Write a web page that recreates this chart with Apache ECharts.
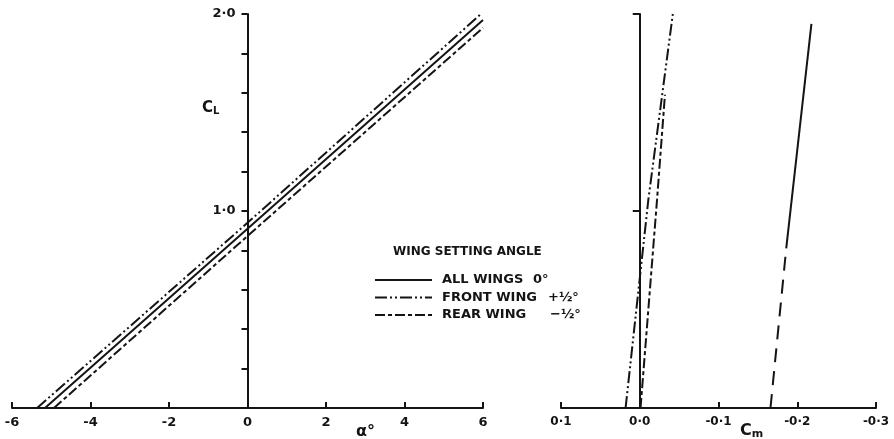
<!DOCTYPE html>
<html>
<head>
<meta charset="utf-8">
<script src="https://cdn.jsdelivr.net/npm/echarts@6/dist/echarts.min.js"></script>
<style>
  html, body { margin: 0; padding: 0; background: #fff; }
  #chart { width: 894px; height: 439px; }
</style>
</head>
<body>
<div id="chart"></div>
<script>
// Series names (wing setting angle configurations)
const configNames = ['ALL WINGS', 'FRONT WING', 'REAR WING'];
const configAngles = ['0°', '+½°', '−½°'];

// Lift curves: [alpha (deg), CL]
const liftAllWings   = [[-5.16, 0], [0, 0.91], [6.0, 1.97]];
const liftFrontWing  = [[-5.36, 0], [0, 0.94], [5.95, 2.0]];
const liftRearWing   = [[-4.93, 0], [0, 0.873], [6.0, 1.93]];

// Pitching moment curves: [Cm, CL]
const momentAllWingsUpper = [[-0.186, 0.81], [-0.218, 1.95]];
const momentAllWingsLower = [[-0.166, 0], [-0.186, 0.81]];
const momentFrontWing = [[0.018, 0], [-0.011, 1.06], [-0.042, 2.0]];
const momentRearWing  = [[-0.001, 0], [-0.022, 1.06], [-0.032, 1.59]];

// Tick labels
const alphaTicks = { '-6': '-6', '-4': '-4', '-2': '-2', '0': '0', '2': '2', '4': '4', '6': '6' };
const cmTicks = { '0.1': '0·1', '0': '0·0', '-0.1': '-0·1', '-0.2': '-0·2', '-0.3': '-0·3' };
const clTicks = { '1': '1·0', '2': '2·0' };

const ink = '#141414';
const font = 'DejaVu Sans';
const dashDotDot = [12, 3, 2, 3, 2, 3];
const dashShort = [10, 3, 4, 3];

// Plot areas
const leftGrid = { left: 12, top: 14, width: 471, height: 394 };
const rightGrid = { left: 561, top: 14, width: 315, height: 394 };

function labelStyle(extra) {
  return Object.assign({ color: ink, fontFamily: font, fontWeight: 'bold', fontSize: 12 }, extra);
}

function lineSeries(name, data, xi, yi, type) {
  return {
    name: name, type: 'line', data: data,
    xAxisIndex: xi, yAxisIndex: yi,
    symbol: 'none', silent: true,
    itemStyle: { color: ink },
    lineStyle: { color: ink, width: 2, type: type }
  };
}

const legendText = { fontFamily: font, fontWeight: 'bold', fontSize: 13, color: ink };

const chart = echarts.init(document.getElementById('chart'));
chart.setOption({
  backgroundColor: '#fff',
  animation: false,
  grid: [
    Object.assign({ outerBoundsMode: 'none', containLabel: false }, leftGrid),
    Object.assign({ outerBoundsMode: 'none', containLabel: false }, rightGrid)
  ],
  xAxis: [
    {
      type: 'value', gridIndex: 0, min: -6, max: 6, interval: 2,
      splitLine: { show: false },
      axisLine: { onZero: false, lineStyle: { color: ink, width: 2 } },
      axisTick: { inside: true, length: 6, lineStyle: { color: ink, width: 2 } },
      axisLabel: labelStyle({ margin: 8, fontSize: 13, formatter: v => alphaTicks[String(v)] || '' })
    },
    {
      type: 'value', gridIndex: 1, min: -0.3, max: 0.1, interval: 0.1, inverse: true,
      splitLine: { show: false },
      axisLine: { onZero: false, lineStyle: { color: ink, width: 2 } },
      axisTick: { inside: true, length: 6, lineStyle: { color: ink, width: 2 } },
      axisLabel: labelStyle({ margin: 8,
        formatter: v => cmTicks[String(Math.round(v * 10) / 10)] || '' })
    }
  ],
  yAxis: [
    {
      // CL axis drawn through alpha = 0
      type: 'value', gridIndex: 0, min: 0, max: 2, interval: 0.2,
      position: 'left', offset: -leftGrid.width / 2,
      splitLine: { show: false },
      axisLine: { onZero: false, lineStyle: { color: ink, width: 2 } },
      axisTick: { length: 6, lineStyle: { color: ink, width: 2 } },
      axisLabel: labelStyle({ margin: 12, fontSize: 13,
        formatter: v => clTicks[String(Math.round(v * 10) / 10)] || '' })
    },
    {
      // CL axis drawn through Cm = 0
      type: 'value', gridIndex: 1, min: 0, max: 2, interval: 1,
      position: 'left', offset: -rightGrid.width / 4,
      splitLine: { show: false },
      axisLine: { onZero: false, lineStyle: { color: ink, width: 2 } },
      axisTick: { length: 7, lineStyle: { color: ink, width: 2 } },
      axisLabel: { show: false }
    }
  ],
  legend: {
    orient: 'vertical', left: 369, top: 268,
    itemWidth: 57, itemHeight: 14, itemGap: 3.5,
    selectedMode: false,
    data: configNames,
    itemStyle: { opacity: 0 },
    formatter: function (name) {
      const i = configNames.indexOf(name);
      return '{n' + i + '|' + name + '}{b|' + configAngles[i] + '}';
    },
    textStyle: Object.assign({ lineHeight: 14, rich: {
      n0: Object.assign({ width: 91, padding: [0, 0, 0, 5] }, legendText),
      n1: Object.assign({ width: 106, padding: [0, 0, 0, 5] }, legendText),
      n2: Object.assign({ width: 108, padding: [0, 0, 0, 5] }, legendText),
      b: legendText
    } }, legendText)
  },
  graphic: [
    { type: 'text', left: 393, top: 246,
      style: { text: 'WING SETTING ANGLE', fill: ink, font: 'bold 12px "DejaVu Sans"' } },
    { type: 'text', left: 202, top: 101,
      style: { text: '{c|C}{s|L}', fill: ink,
        rich: { c: { font: 'bold 15px "DejaVu Sans"', fill: ink },
                s: { font: 'bold 10px "DejaVu Sans"', fill: ink, verticalAlign: 'bottom', padding: [6, 0, 0, 0] } } } },
    { type: 'text', left: 356, top: 424,
      style: { text: 'α°', fill: ink, font: 'bold 16px "DejaVu Sans"' } },
    { type: 'text', left: 740, top: 423,
      style: { text: '{c|C}{s|m}', fill: ink,
        rich: { c: { font: 'bold 16px "DejaVu Sans"', fill: ink },
                s: { font: 'bold 11px "DejaVu Sans"', fill: ink, verticalAlign: 'bottom', padding: [6, 0, 0, 0] } } } }
  ],
  series: [
    lineSeries(configNames[0], liftAllWings, 0, 0, 'solid'),
    lineSeries(configNames[1], liftFrontWing, 0, 0, dashDotDot),
    lineSeries(configNames[2], liftRearWing, 0, 0, dashShort),
    lineSeries(configNames[0], momentAllWingsUpper, 1, 1, 'solid'),
    lineSeries(configNames[0], momentAllWingsLower, 1, 1, [14, 9]),
    lineSeries(configNames[1], momentFrontWing, 1, 1, dashDotDot),
    lineSeries(configNames[2], momentRearWing, 1, 1, dashShort)
  ]
});
</script>
</body>
</html>
